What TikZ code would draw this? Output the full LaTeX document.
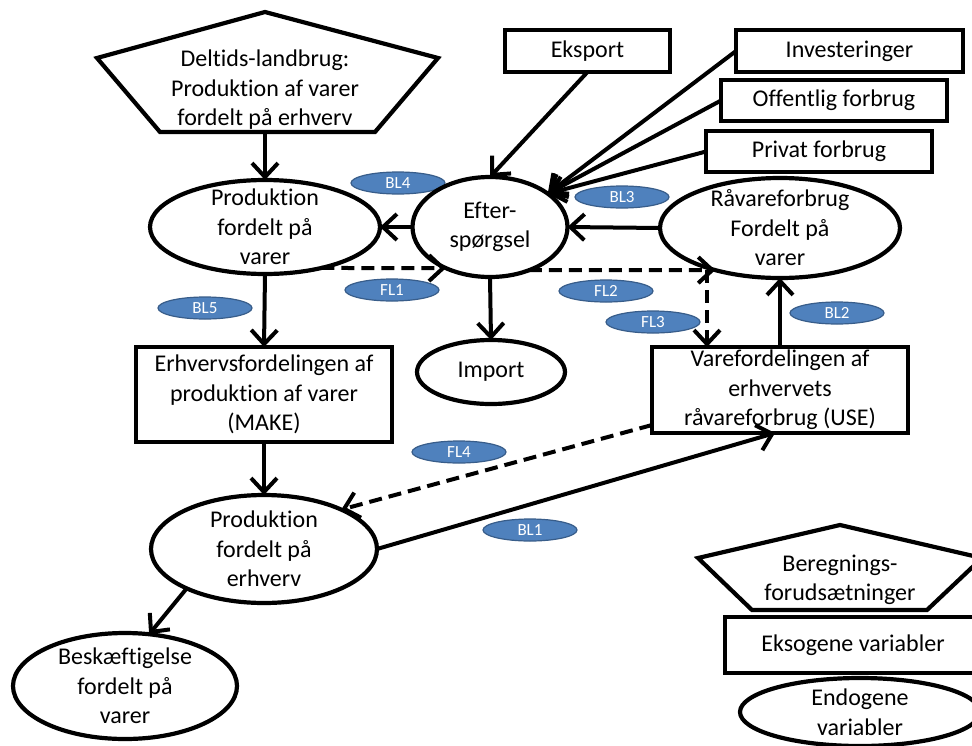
\documentclass[tikz,border=0pt]{standalone}
\usepackage{fontspec}
\setmainfont{Carlito}[Ligatures=NoCommon]
\usetikzlibrary{arrows.meta,shapes.geometric}
\definecolor{blobfill}{HTML}{4F81BD}
\definecolor{blobline}{HTML}{385D8A}
\begin{document}
\begin{tikzpicture}[x=1pt,y=-1pt,
 every node/.style={font=\fontsize{24}{29.5}\selectfont, align=center, inner sep=0pt, outer sep=0pt},
 oval/.style={ellipse, draw, line width=4.2pt, inner ysep=-20pt, inner xsep=-8pt},
 box/.style={rectangle, draw, line width=4.5pt},
 blob/.style={ellipse, fill=blobfill, draw=blobline, line width=1.2pt, text=white, font=\fontsize{17}{19}\selectfont, minimum width=94pt, minimum height=22pt, inner sep=0pt},
 arr/.style={line width=4pt, -{Straight Barb[length=14pt,width=26pt]}},
 darr/.style={arr, dash pattern=on 13pt off 7pt},
 shapeline/.style={line width=4.2pt, line join=miter},
]
\useasboundingbox (0,0) rectangle (972,745);
\fill[white] (0,0) rectangle (972,745);

% blobs (labels)
\node[blob] (bl4) at (398,183) {BL4};
\node[blob] (fl1) at (392,290) {FL1};
\node[blob] (bl5) at (205,308) {BL5};
\node[blob] (bl3) at (622,197) {BL3};
\node[blob] (fl2) at (606,291) {FL2};
\node[blob] (fl3) at (653,322) {FL3};
\node[blob] (bl2) at (837,313) {BL2};
\node[blob] (fl4) at (459,452) {FL4};
\node[blob] (bl1) at (530,530) {BL1};

% pentagon top
\draw[shapeline] (265,12) -- (438,58) -- (375,132) -- (160,132) -- (97,58) -- cycle;
\node (pent) at (265,90) {Deltids-landbrug:\\Produktion af varer\\fordelt på erhverv};
\coordinate (pentb) at (265,132);

% ovals
\node[oval, minimum width=230pt, minimum height=94pt] (prodv) at (265,227) {Produktion\\fordelt på\\varer};
\node[oval, minimum width=155pt, minimum height=100pt] (efter) at (490,227) {Efter-\\spørgsel};
\node[oval, minimum width=240pt, minimum height=100pt] (raav) at (780,228) {Råvareforbrug\\Fordelt på\\varer};
\node[oval, minimum width=148pt, minimum height=64pt] (import) at (491,372) {Import};
\node[oval, minimum width=226pt, minimum height=108pt] (prode) at (264,549) {Produktion\\fordelt på\\erhverv};
\node[oval, minimum width=224pt, minimum height=106pt] (besk) at (125,686) {Beskæftigelse\\fordelt på\\varer};

% boxes
\node[box, minimum width=165pt, minimum height=42pt] (eksport) at (587.5,51) {Eksport};
\node[box, minimum width=227pt, minimum height=42pt] (invest) at (849.5,51) {Investeringer};
\node[box, minimum width=226pt, minimum height=41pt] (offent) at (834,100.5) {Offentlig forbrug};
\node[box, minimum width=226pt, minimum height=41pt] (privat) at (819,151.5) {Privat forbrug};
\node[box, minimum width=256pt, minimum height=95pt] (erhv) at (264,394.5) {Erhvervsfordelingen af\\produktion af varer\\(MAKE)};
\node[box, minimum width=256pt, minimum height=86pt] (varef) at (780,390) {Varefordelingen af\\erhvervets\\råvareforbrug (USE)};

% legend
\draw[shapeline] (840,525) -- (982,558) -- (927,610) -- (752,610) -- (698,558) -- cycle;
\node (beregn) at (840,580) {Beregnings-\\forudsætninger};
\node[box, minimum width=256pt, minimum height=56pt] (eksog) at (853,645) {Eksogene variabler};
\node[oval, minimum width=240pt, minimum height=68pt] (endo) at (860,712) {Endogene\\variabler};

% connectors
\draw[arr] (pentb) -- (prodv.north);
\draw[arr] (efter.west) -- (prodv.east);
\draw[darr] (prodv.-36) -- (efter.-137);
\draw[arr] (raav.west) -- (efter.east);
\draw[darr] (efter.-48) -- (raav.-147);
\coordinate (fl3s) at (707,270);
\draw[darr] (fl3s) -- (fl3s |- varef.north);
\draw[arr] (eksport.south) -- (efter.north);
\draw[arr] (invest.west) -- (efter.30);
\draw[arr] (offent.west) -- (efter.30);
\draw[arr] (privat.west) -- (efter.30);
\draw[arr] (efter.south) -- (import.north);
\draw[arr] (varef.north) -- (raav.south);
\draw[arr] (prodv.south) -- (erhv.north);
\draw[arr] (erhv.south) -- (prode.north);
\draw[darr] ([yshift=-35pt]varef.west) -- (prode.27);
\draw[arr] (prode.east) -- ([xshift=-5pt]varef.south);
\draw[arr] (prode.-153) -- (besk.65);
\end{tikzpicture}
\end{document}
